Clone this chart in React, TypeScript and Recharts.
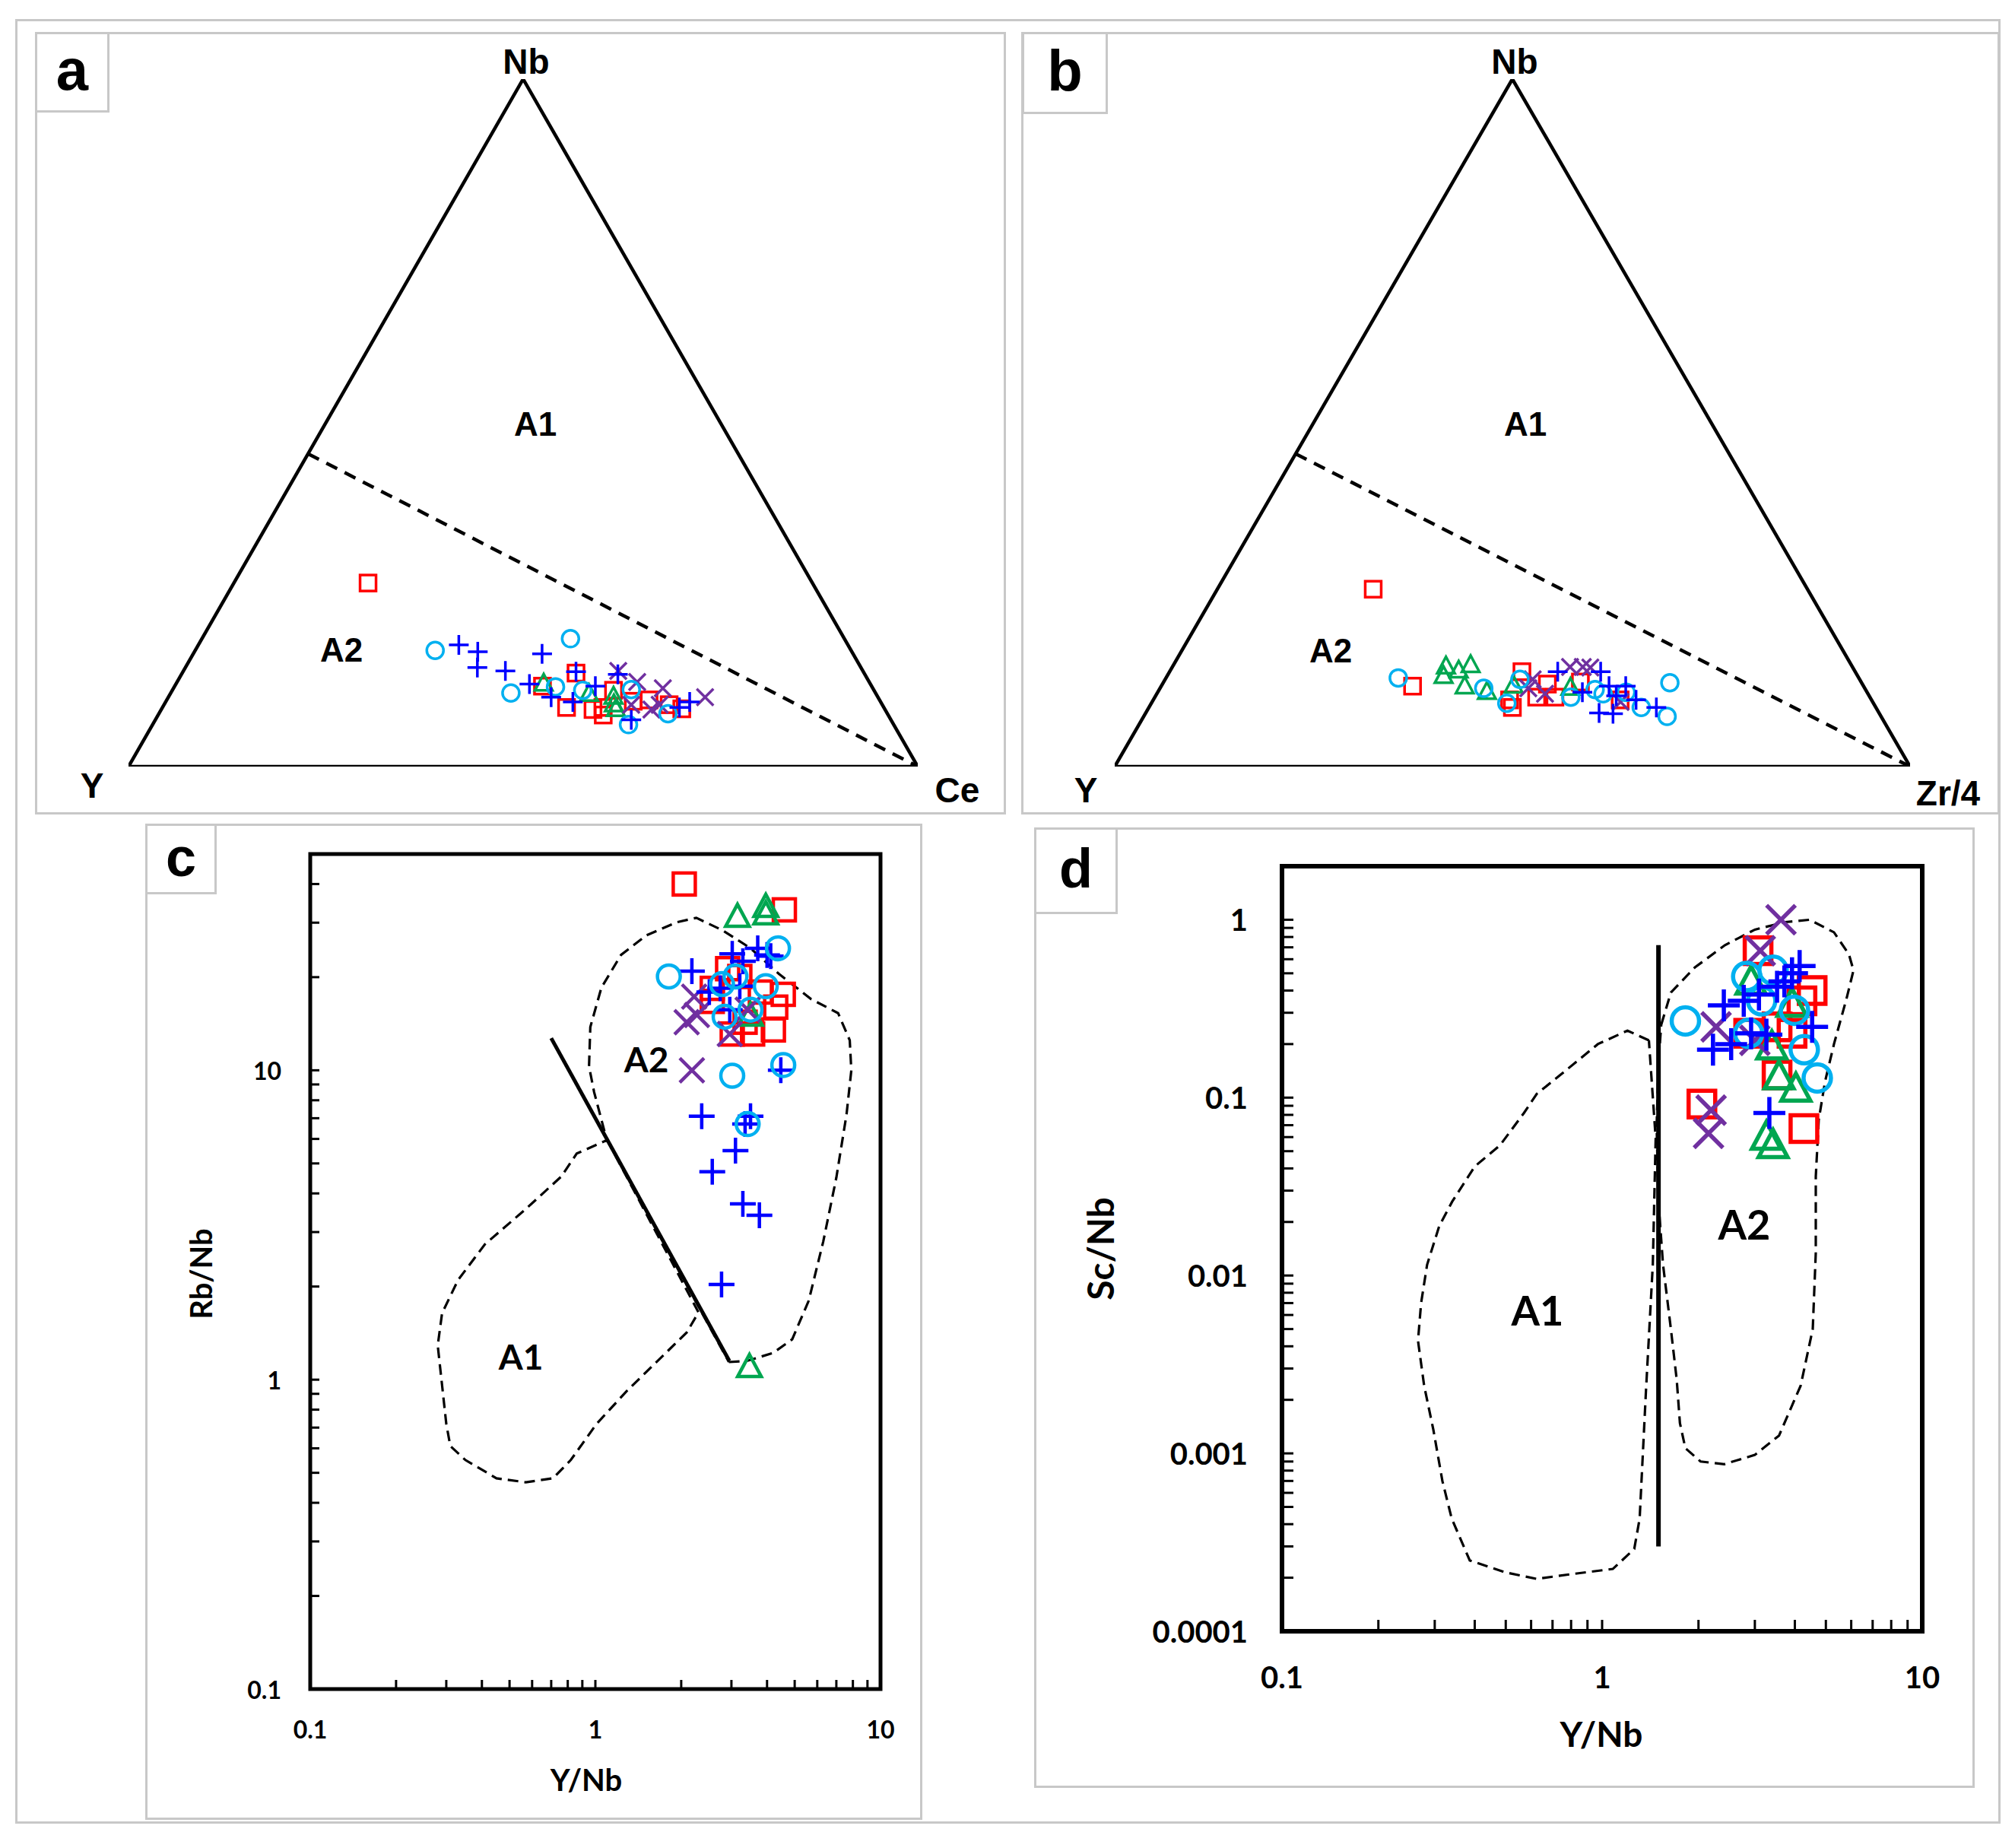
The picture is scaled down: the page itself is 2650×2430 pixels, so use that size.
import React from 'react'
import { ScatterChart, Scatter, XAxis, YAxis, ReferenceArea } from 'recharts'

const RED = '#FF0000'
const BLUE = '#0000FF'
const CYAN = '#00B0F0'
const GREEN = '#00A650'
const PURPLE = '#7030A0'
const FRAME = '#C8C8C8'
const ARIAL = '"Liberation Sans", Arial, sans-serif'
const CALIBRI = 'Lato, "Open Sans", sans-serif'

// ternary compositions, [Y, Nb, Ce] in %
const A_RED = [[56.3, 26.7, 17.0], [41.7, 11.7, 46.6], [36.5, 13.6, 49.9], [40.2, 8.6, 51.2], [37.0, 8.3, 54.7], [36.1, 7.5, 56.4], [33.0, 11.1, 55.9], [31.3, 9.5, 59.2], [29.2, 9.7, 61.1], [27.0, 9.0, 64.0], [25.7, 8.4, 65.9], [35.6, 8.6, 55.8]]
const A_BLUE = [[49.3, 17.7, 33.0], [47.4, 16.7, 35.9], [48.6, 14.4, 37.0], [45.3, 13.9, 40.8], [39.4, 16.4, 44.2], [36.4, 13.8, 49.8], [43.2, 12.0, 44.8], [41.4, 10.1, 48.5], [39.0, 9.4, 51.6], [35.0, 11.7, 53.3], [31.3, 13.4, 55.3], [32.9, 6.8, 60.3], [25.9, 8.6, 65.5], [24.2, 9.4, 66.4]]
const A_CYAN = [[52.7, 16.9, 30.4], [34.7, 18.6, 46.7], [46.2, 10.7, 43.1], [40.1, 11.6, 48.3], [36.9, 11.1, 52.0], [30.7, 11.2, 58.1], [33.6, 6.1, 60.3], [27.8, 7.7, 64.5]]
const A_GREEN = [[41.4, 12.0, 46.6], [36.4, 10.5, 53.1], [33.5, 10.1, 56.4], [34.0, 9.0, 57.0], [34.1, 8.3, 57.6]]
const A_PURPLE = [[31.0, 13.9, 55.1], [29.4, 12.3, 58.3], [26.6, 11.4, 62.0], [21.9, 10.1, 68.0], [29.6, 8.3, 62.1], [28.2, 9.0, 62.8], [31.8, 9.0, 59.2]]

// ternary compositions, [Y, Nb, Zr/4] in %
const B_RED = [[54.6, 25.8, 19.6], [56.7, 11.7, 31.6], [41.9, 13.8, 44.3], [45.5, 9.7, 44.8], [45.7, 8.6, 45.7], [39.6, 12.0, 48.4], [41.9, 10.1, 48.0], [39.6, 10.1, 50.3], [31.6, 9.7, 58.7], [35.3, 12.3, 52.4]]
const B_BLUE = [[37.4, 13.8, 48.8], [35.8, 10.8, 53.4], [32.0, 11.7, 56.3], [29.9, 11.7, 58.4], [31.8, 10.3, 57.9], [35.2, 7.8, 57.0], [33.5, 7.7, 58.8], [29.6, 9.7, 60.7], [27.6, 8.6, 63.8], [32.0, 13.8, 54.2]]
const B_CYAN = [[57.9, 12.9, 29.2], [47.9, 11.4, 40.7], [46.1, 9.2, 44.7], [37.6, 10.1, 52.3], [34.0, 11.2, 54.8], [33.3, 10.6, 56.1], [29.5, 8.6, 61.9], [24.1, 12.2, 63.7], [26.9, 7.3, 65.8], [42.7, 12.7, 44.6], [30.3, 10.8, 58.9]]
const B_GREEN = [[51.1, 14.5, 34.4], [49.8, 13.9, 36.3], [47.9, 14.7, 37.4], [52.1, 13.1, 34.8], [50.2, 11.6, 38.2], [47.8, 10.8, 41.4], [44.0, 11.7, 44.3], [37.0, 11.4, 51.6]]
const B_PURPLE = [[35.5, 14.5, 50.0], [33.9, 14.5, 51.6], [33.0, 14.4, 52.6], [41.1, 12.7, 46.2], [40.6, 10.6, 48.8], [31.7, 9.4, 58.9], [42.3, 11.4, 46.3]]

const TRIANGLE = [[100, 0, 0], [0, 100, 0], [0, 0, 100], [100, 0, 0]]
const A1_A2_BOUNDARY = [[54.5, 45.5, 0], [0, 0, 100]]

// Rb/Nb vs Y/Nb, [Y/Nb, Rb/Nb]
const C_RED = [[2.05, 40], [4.6, 33], [2.57, 18.4], [2.91, 21.3], [3.21, 20.1], [3.79, 17.9], [4.56, 17.6], [4.29, 16], [4.21, 13.5], [3.56, 13.1], [3.02, 13.1], [3.35, 14.3], [2.57, 16.7]]
const C_BLUE = [[2.18, 20.9], [3.02, 23.8], [3.71, 24.8], [4.12, 23.4], [3.29, 22.5], [2.51, 17.9], [3.21, 18.7], [2.74, 18.4], [2.96, 15.7], [4.47, 10], [2.36, 7.1], [3.5, 7.1], [3.35, 6.7], [3.1, 5.5], [2.57, 4.7], [3.29, 3.7], [3.76, 3.4], [2.77, 2.03], [4.0, 23.6]]
const C_CYAN = [[1.81, 20.1], [4.37, 24.8], [3.1, 20.1], [2.78, 19], [3.96, 18.7], [3.5, 15.7], [2.84, 14.9], [3.02, 9.6], [4.56, 10.4], [3.42, 6.7]]
const C_GREEN = [[3.15, 31.1], [3.96, 33.5], [3.96, 31.7], [3.5, 14.9], [3.47, 1.09]]
const C_PURPLE = [[2.22, 17.3], [2.09, 14.3], [2.27, 15.1], [2.18, 10], [2.96, 13.1], [3.42, 15.7]]
const C_A1_FIELD = [[1.1, 5.95], [2.3, 1.65], [2.09, 1.42], [1.51, 1.06], [1.29, 0.92], [1.01, 0.72], [0.82, 0.55], [0.71, 0.48], [0.57, 0.466], [0.45, 0.48], [0.35, 0.55], [0.31, 0.61], [0.3, 0.72], [0.28, 1.29], [0.29, 1.64], [0.33, 2.1], [0.41, 2.74], [0.57, 3.56], [0.76, 4.54], [0.86, 5.38], [1.1, 5.95]]
const C_A2_FIELD = [[2.94, 1.14], [3.4, 1.15], [4.2, 1.22], [4.9, 1.35], [5.6, 1.8], [6.3, 2.8], [7.0, 4.5], [7.6, 7.2], [7.9, 10], [7.8, 12.5], [7.1, 15.3], [5.7, 17], [4.4, 20.5], [3.5, 24.8], [2.8, 28.3], [2.26, 31.1], [1.93, 30.1], [1.51, 27.3], [1.23, 23.6], [1.05, 18.5], [0.96, 13.8], [0.95, 10.3], [0.99, 8.5], [1.09, 6.07], [2.94, 1.14]]
const C_DIVIDE = [[0.7, 12.7], [2.95, 1.15]]

// Sc/Nb vs Y/Nb, [Y/Nb, Sc/Nb]
const D_RED = [[3.07, 0.67], [4.53, 0.4], [4.21, 0.35], [3.52, 0.25], [2.05, 0.092], [3.52, 0.134], [4.27, 0.067], [2.87, 0.23], [3.92, 0.23]]
const D_BLUE = [[2.4, 0.33], [2.22, 0.186], [2.53, 0.2], [2.77, 0.35], [3.09, 0.38], [3.71, 0.45], [4.14, 0.55], [3.92, 0.5], [4.53, 0.25], [3.26, 0.226], [2.92, 0.23], [3.33, 0.082], [3.52, 0.42]]
const D_CYAN = [[1.82, 0.27], [2.83, 0.48], [3.42, 0.52], [3.99, 0.31], [2.87, 0.23], [4.28, 0.186], [4.7, 0.129], [3.15, 0.35]]
const D_GREEN = [[2.92, 0.44], [3.92, 0.33], [3.39, 0.19], [3.57, 0.129], [4.03, 0.11], [3.26, 0.059], [3.42, 0.053]]
const D_PURPLE = [[3.62, 1.0], [3.12, 0.67], [2.27, 0.25], [2.19, 0.085], [2.15, 0.063], [3.0, 0.21]]
const D_A1_FIELD = [[1.4, 0.21], [1.2, 0.238], [0.97, 0.2], [0.74, 0.134], [0.625, 0.105], [0.57, 0.082], [0.48, 0.054], [0.4, 0.041], [0.34, 0.026], [0.31, 0.019], [0.284, 0.0115], [0.272, 0.007], [0.266, 0.0043], [0.278, 0.0024], [0.297, 0.00136], [0.317, 0.0007], [0.339, 0.00043], [0.386, 0.00025], [0.5, 0.000214], [0.625, 0.000197], [0.81, 0.00021], [1.08, 0.000224], [1.26, 0.00029], [1.31, 0.00043], [1.37, 0.0022], [1.44, 0.0115], [1.47, 0.059], [1.4, 0.21]]
const D_A2_FIELD = [[1.53, 0.257], [1.64, 0.39], [1.95, 0.54], [2.42, 0.72], [3.0, 0.88], [3.73, 0.97], [4.45, 1.0], [5.3, 0.85], [5.9, 0.64], [6.1, 0.52], [5.8, 0.36], [5.3, 0.2], [4.97, 0.123], [4.75, 0.075], [4.65, 0.036], [4.65, 0.0134], [4.55, 0.005], [4.17, 0.0024], [3.57, 0.00126], [3.0, 0.00098], [2.41, 0.00087], [2.03, 0.0009], [1.82, 0.00107], [1.75, 0.00148], [1.71, 0.0026], [1.64, 0.005], [1.55, 0.0115], [1.5, 0.026], [1.48, 0.069], [1.5, 0.157], [1.53, 0.257]]
const D_DIVIDE = [[1.5, 0.72], [1.5, 0.0003]]

const X_LABELS = [0.1, 1, 10]
const C_Y_LABELS = [0.1, 1, 10]
const D_Y_LABELS = [0.0001, 0.001, 0.01, 0.1, 1]

// minor ticks of a log axis: 1..9 times each labelled decade
const logTicks = (labels: number[], top: number) => {
    const out: number[] = []
    labels.forEach(d => {
        for (let m = 1; m < 10; m++) if (d * m <= top * 1.0001) out.push(d * m)
    })
    return out
}

const tern = (rows: number[][]) =>
    rows.map(([y, nb, c]) => {
        const s = y + nb + c
        return { x: (c + nb / 2) / s, y: nb / s }
    })
const xy = (rows: number[][]) => rows.map(([x, y]) => ({ x, y }))

function marker(kind: string, color: string, s: number, sw: number) {
    return (p: any) => {
        const { cx, cy } = p
        if (cx == null || cy == null) return <g />
        const common = { fill: 'none', stroke: color, strokeWidth: sw }
        if (kind === 'square') return <rect x={cx - s} y={cy - s} width={2 * s} height={2 * s} {...common} />
        if (kind === 'circle') return <circle cx={cx} cy={cy} r={s} {...common} />
        if (kind === 'plus')
            return <path d={`M${cx - s},${cy}H${cx + s}M${cx},${cy - s}V${cy + s}`} {...common} />
        if (kind === 'cross')
            return <path d={`M${cx - s},${cy - s}L${cx + s},${cy + s}M${cx - s},${cy + s}L${cx + s},${cy - s}`} {...common} />
        return (
            <polygon
                points={`${cx},${cy - s * 1.15} ${cx - s},${cy + s * 0.72} ${cx + s},${cy + s * 0.72}`}
                strokeLinejoin="miter"
                {...common}
            />
        )
    }
}
const noDot = () => <g />

function Txt({ x, y, size, children, font = ARIAL, rotate = 0 }: any) {
    return (
        <div
            style={{
                position: 'absolute',
                left: x,
                top: y,
                transform: `translate(-50%, -50%) rotate(${rotate}deg)`,
                fontFamily: font,
                fontWeight: 700,
                fontSize: size,
                lineHeight: 1,
                whiteSpace: 'nowrap',
                color: '#000',
            }}
        >
            {children}
        </div>
    )
}

function Box({ l, t, r, b, w = 3 }: any) {
    return (
        <div
            style={{
                position: 'absolute',
                left: l,
                top: t,
                width: r - l,
                height: b - t,
                boxSizing: 'border-box',
                border: `${w}px solid ${FRAME}`,
                background: 'transparent',
            }}
        />
    )
}

function TagBox({ l, t, r, b, letter, size }: any) {
    return (
        <div
            style={{
                position: 'absolute',
                left: l,
                top: t,
                width: r - l,
                height: b - t,
                boxSizing: 'border-box',
                border: `3px solid ${FRAME}`,
                background: '#fff',
                display: 'flex',
                alignItems: 'center',
                justifyContent: 'center',
                fontFamily: ARIAL,
                fontWeight: 700,
                fontSize: size,
                lineHeight: 1,
                paddingBottom: 6,
            }}
        >
            {letter}
        </div>
    )
}

function Ternary({ left, top, width, height, margin, series }: any) {
    return (
        <div style={{ position: 'absolute', left, top }}>
            <ScatterChart width={width} height={height} margin={margin}>
                <XAxis type="number" dataKey="x" domain={[0, 1]} hide allowDataOverflow height={0} />
                <YAxis type="number" dataKey="y" domain={[0, 1]} hide allowDataOverflow width={0} />
                <Scatter data={tern(TRIANGLE)} line={{ stroke: '#000', strokeWidth: 4.5 }} shape={noDot} isAnimationActive={false} />
                <Scatter
                    data={tern(A1_A2_BOUNDARY)}
                    line={{ stroke: '#000', strokeWidth: 4.5, strokeDasharray: '16 11' }}
                    shape={noDot}
                    isAnimationActive={false}
                />
                {series.map((s: any, i: number) => (
                    <Scatter key={i} data={tern(s.data)} shape={marker(s.kind, s.color, s.size, 3.5)} isAnimationActive={false} />
                ))}
            </ScatterChart>
        </div>
    )
}

const fmt = (v: number) => String(v)
const isMajor = (labels: number[], v: number) => labels.some(l => Math.abs(l - v) < l * 1e-6)

function LogPanel({ left, top, width, height, margin, yDomain, yLabels, fs, tickLen, xDy, yDx, frameW, series, fields, divide, sw }: any) {
    const xTicks = logTicks(X_LABELS, 10)
    const yTicks = logTicks(yLabels, yDomain[1])
    const xTick = (p: any) => {
        const v = p.payload.value
        return (
            <g>
                <line x1={p.x} y1={p.y} x2={p.x} y2={p.y - tickLen} stroke="#000" strokeWidth={3} />
                {isMajor(X_LABELS, v) && (
                    <text x={p.x} y={p.y + xDy} textAnchor="middle" dominantBaseline="central" fontFamily={CALIBRI} fontWeight={700} fontSize={fs} fill="#000">
                        {fmt(v)}
                    </text>
                )}
            </g>
        )
    }
    const yTick = (p: any) => {
        const v = p.payload.value
        return (
            <g>
                <line x1={p.x} y1={p.y} x2={p.x + tickLen} y2={p.y} stroke="#000" strokeWidth={3} />
                {isMajor(yLabels, v) && (
                    <text x={p.x - yDx} y={p.y} textAnchor="end" dominantBaseline="central" fontFamily={CALIBRI} fontWeight={700} fontSize={fs} fill="#000">
                        {fmt(v)}
                    </text>
                )}
            </g>
        )
    }
    return (
        <div style={{ position: 'absolute', left, top }}>
            <ScatterChart width={width} height={height} margin={margin}>
                <XAxis
                    type="number"
                    dataKey="x"
                    scale="log"
                    domain={[0.1, 10]}
                    allowDataOverflow
                    ticks={xTicks}
                    interval={0}
                    tick={xTick}
                    tickLine={false}
                    axisLine={false}
                    tickSize={0}
                    tickMargin={0}
                    height={1}
                />
                <YAxis
                    type="number"
                    dataKey="y"
                    scale="log"
                    domain={yDomain}
                    allowDataOverflow
                    ticks={yTicks}
                    interval={0}
                    tick={yTick}
                    tickLine={false}
                    axisLine={false}
                    tickSize={0}
                    tickMargin={0}
                    width={1}
                />
                <ReferenceArea x1={0.1} x2={10} y1={yDomain[0]} y2={yDomain[1]} fill="none" stroke="#000" strokeWidth={frameW} ifOverflow="visible" />
                {fields.map((f: number[][], i: number) => (
                    <Scatter
                        key={'f' + i}
                        data={xy(f)}
                        line={{ stroke: '#000', strokeWidth: 3.2, strokeDasharray: '14 8' }}
                        shape={noDot}
                        isAnimationActive={false}
                    />
                ))}
                <Scatter data={xy(divide)} line={{ stroke: '#000', strokeWidth: frameW }} shape={noDot} isAnimationActive={false} />
                {series.map((s: any, i: number) => (
                    <Scatter key={i} data={xy(s.data)} shape={marker(s.kind, s.color, s.size, sw)} isAnimationActive={false} />
                ))}
            </ScatterChart>
        </div>
    )
}

const sym = (data: number[][], kind: string, color: string, size: number) => ({ data, kind, color, size })

export default function App() {
    const aSeries = [
        sym(A_RED, 'square', RED, 10.5),
        sym(A_GREEN, 'triangle', GREEN, 11.5),
        sym(A_PURPLE, 'cross', PURPLE, 11),
        sym(A_CYAN, 'circle', CYAN, 11),
        sym(A_BLUE, 'plus', BLUE, 13),
    ]
    const bSeries = [
        sym(B_RED, 'square', RED, 10.5),
        sym(B_GREEN, 'triangle', GREEN, 11.5),
        sym(B_PURPLE, 'cross', PURPLE, 11),
        sym(B_CYAN, 'circle', CYAN, 11),
        sym(B_BLUE, 'plus', BLUE, 13),
    ]
    const cSeries = [
        sym(C_RED, 'square', RED, 14.5),
        sym(C_GREEN, 'triangle', GREEN, 15.5),
        sym(C_PURPLE, 'cross', PURPLE, 16),
        sym(C_BLUE, 'plus', BLUE, 17),
        sym(C_CYAN, 'circle', CYAN, 15),
    ]
    const dSeries = [
        sym(D_RED, 'square', RED, 17.5),
        sym(D_GREEN, 'triangle', GREEN, 19),
        sym(D_PURPLE, 'cross', PURPLE, 19),
        sym(D_CYAN, 'circle', CYAN, 18),
        sym(D_BLUE, 'plus', BLUE, 21),
    ]
    return (
        <div style={{ position: 'absolute', left: 0, top: 0, width: 2650, height: 2430, background: '#fff', overflow: 'hidden' }}>
            <Box l={20} t={25} r={2631} b={2398} />
            <Box l={46} t={42} r={1323} b={1071} />
            <Box l={1343} t={42} r={2630} b={1071} />
            <Box l={191} t={1083} r={1213} b={2393} />
            <Box l={1360} t={1088} r={2597} b={2351} />

            <Ternary left={46} top={42} width={1277} height={1029} margin={{ top: 62, right: 116, bottom: 63, left: 123 }} series={aSeries} />
            <Ternary left={1343} top={42} width={1287} height={1029} margin={{ top: 62, right: 118, bottom: 63, left: 123 }} series={bSeries} />

            <LogPanel
                left={191}
                top={1083}
                width={1022}
                height={1310}
                margin={{ top: 40, right: 55, bottom: 171, left: 216 }}
                yDomain={[0.1, 50]}
                yLabels={C_Y_LABELS}
                fs={32}
                tickLen={12}
                xDy={52}
                yDx={38}
                frameW={5}
                series={cSeries}
                fields={[C_A1_FIELD, C_A2_FIELD]}
                divide={C_DIVIDE}
                sw={4.5}
            />
            <LogPanel
                left={1360}
                top={1088}
                width={1237}
                height={1263}
                margin={{ top: 51, right: 69, bottom: 205, left: 325 }}
                yDomain={[0.0001, 2]}
                yLabels={D_Y_LABELS}
                fs={40}
                tickLen={15}
                xDy={60}
                yDx={45}
                frameW={6}
                series={dSeries}
                fields={[D_A1_FIELD, D_A2_FIELD]}
                divide={D_DIVIDE}
                sw={5.5}
            />

            <TagBox l={46} t={42} r={144} b={148} letter="a" size={76} />
            <TagBox l={1344} t={42} r={1457} b={150} letter="b" size={76} />
            <TagBox l={191} t={1083} r={285} b={1176} letter="c" size={72} />
            <TagBox l={1360} t={1088} r={1470} b={1202} letter="d" size={72} />

            <Txt x={692} y={81} size={46}>Nb</Txt>
            <Txt x={121} y={1033} size={46}>Y</Txt>
            <Txt x={1259} y={1039} size={46}>Ce</Txt>
            <Txt x={704} y={558} size={44}>A1</Txt>
            <Txt x={449} y={855} size={44}>A2</Txt>

            <Txt x={1992} y={81} size={46}>Nb</Txt>
            <Txt x={1428} y={1039} size={46}>Y</Txt>
            <Txt x={2562} y={1043} size={46}>Zr/4</Txt>
            <Txt x={2006} y={558} size={44}>A1</Txt>
            <Txt x={1750} y={856} size={44}>A2</Txt>

            <Txt x={685} y={1784} size={46} font={CALIBRI}>A1</Txt>
            <Txt x={850} y={1393} size={46} font={CALIBRI}>A2</Txt>
            <Txt x={264} y={1675} size={40} font={CALIBRI} rotate={-90}>Rb/Nb</Txt>
            <Txt x={771} y={2340} size={40} font={CALIBRI}>Y/Nb</Txt>

            <Txt x={2022} y={1723} size={54} font={CALIBRI}>A1</Txt>
            <Txt x={2294} y={1610} size={54} font={CALIBRI}>A2</Txt>
            <Txt x={1447} y={1642} size={48} font={CALIBRI} rotate={-90}>Sc/Nb</Txt>
            <Txt x={2106} y={2280} size={46} font={CALIBRI}>Y/Nb</Txt>
        </div>
    )
}
